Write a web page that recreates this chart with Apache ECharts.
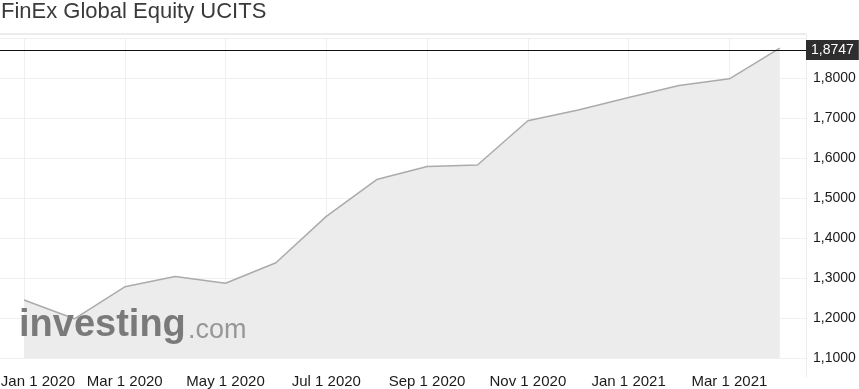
<!DOCTYPE html>
<html>
<head>
<meta charset="utf-8">
<script src="https://cdn.jsdelivr.net/npm/echarts@6/dist/echarts.min.js"></script>
<style>
html,body{margin:0;padding:0;background:#fff;}
#chart{width:859px;height:389px;}
</style>
</head>
<body>
<div id="chart"></div>
<script>
// monthly closes, Jan 2020 .. Apr 2021
var months = ['Jan 1 2020','Feb 1 2020','Mar 1 2020','Apr 1 2020','May 1 2020','Jun 1 2020',
	'Jul 1 2020','Aug 1 2020','Sep 1 2020','Oct 1 2020','Nov 1 2020','Dec 1 2020',
	'Jan 1 2021','Feb 1 2021','Mar 1 2021','Apr 1 2021'];
var prices = [1.245, 1.198, 1.278, 1.304, 1.287, 1.338, 1.454, 1.546, 1.579, 1.5825,
	1.693, 1.720, 1.751, 1.781, 1.798, 1.8747];
var lastPrice = 1.8747;
var labelIdx = [0, 2, 4, 6, 8, 10, 12, 14];

var fmt = function(v){
	return v.toFixed(4).replace('.', ',');
};

var pts = [];
for(var i=0;i<prices.length;i++){
	pts.push([i, prices[i]]);
}

var chart = echarts.init(document.getElementById('chart'));
chart.setOption({
	animation: false,
	textStyle: { fontFamily: 'Arial, "Liberation Sans", sans-serif' },
	title: {
		text: 'FinEx Global Equity UCITS',
		left: -4, top: -4,
		textStyle: { fontSize: 22, fontWeight: 'normal', color: '#3a3a3a' }
	},
	grid: { left: 0, right: 53, top: 38, bottom: 31, outerBoundsMode: 'none', containLabel: false },
	xAxis: {
		type: 'value',
		min: -0.476,
		max: 15.52,
		axisLine: { show: false },
		axisTick: { show: false, customValues: labelIdx },
		axisLabel: {
			customValues: labelIdx,
			margin: 16,
			fontSize: 15,
			color: '#1a1a1a',
			formatter: function(v){
				var i = Math.round(v);
				// first label is pushed right so it starts at the left edge
				return i === 0 ? '{first|' + months[i] + '}' : months[i];
			},
			rich: {
				first: { fontSize: 15, color: '#1a1a1a', padding: [0, 0, 0, 28] }
			}
		},
		splitLine: { show: true, lineStyle: { color: '#efefef', width: 1 } }
	},
	yAxis: {
		type: 'value',
		position: 'right',
		min: 1.1,
		max: 1.9,
		interval: 0.1,
		axisLine: { show: false },
		axisTick: { show: false },
		axisLabel: {
			margin: 7,
			fontSize: 14,
			color: '#1a1a1a',
			formatter: function(v){ return v > 1.85 ? '' : fmt(v); }
		},
		splitLine: { lineStyle: { color: '#f0f0f0', width: 1 } }
	},
	graphic: [
		{ type: 'line', shape: { x1: 0, y1: 34, x2: 806, y2: 34 }, style: { stroke: '#ececec', lineWidth: 2 } },
		{ type: 'line', shape: { x1: 806.5, y1: 34, x2: 806.5, y2: 377 }, style: { stroke: '#ececec', lineWidth: 1 } },
		{ type: 'text', left: 19, top: 307, z: 10, style: { text: 'investing', font: 'bold 38px Arial, "Liberation Sans"', fill: '#7a7a7a' } },
		{ type: 'text', left: 188, top: 317, z: 10, style: { text: '.com', font: '27px Arial, "Liberation Sans"', fill: '#979797' } }
	],
	series: [{
		type: 'line',
		data: pts,
		symbol: 'none',
		lineStyle: { color: '#ababab', width: 1.5 },
		areaStyle: { color: '#ececec', opacity: 1 },
		markLine: {
			silent: true,
			symbol: 'none',
			lineStyle: { color: '#111', width: 1.2, type: 'solid' },
			label: {
				position: 'end',
				distance: 0,
				formatter: fmt(lastPrice),
				color: '#fff',
				fontSize: 14,
				backgroundColor: '#2e2e2e',
				padding: [3, 5, 3, 5]
			},
			data: [{ yAxis: lastPrice }]
		}
	}]
});
</script>
</body>
</html>
